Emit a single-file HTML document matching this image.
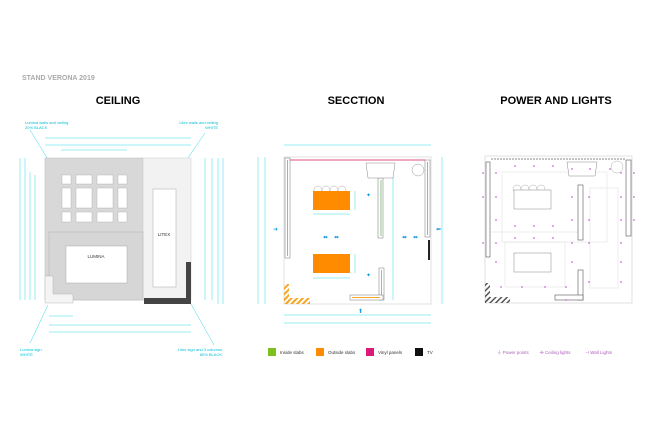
<!DOCTYPE html>
<html><head><meta charset="utf-8"><style>html,body{margin:0;padding:0;background:#fff}svg{display:block}</style></head>
<body>
<svg width="650" height="433" viewBox="0 0 650 433" xmlns="http://www.w3.org/2000/svg" font-family="Liberation Sans, sans-serif">
<defs>
<pattern id="h" width="4" height="4" patternUnits="userSpaceOnUse" patternTransform="rotate(45)"><rect width="2" height="4" fill="#f5a623"/></pattern>
<pattern id="hg" width="4" height="4" patternUnits="userSpaceOnUse" patternTransform="rotate(45)"><rect width="1.5" height="4" fill="#555"/></pattern>
</defs>
<text x="22" y="80" font-size="7" font-weight="bold" fill="#aaa">STAND VERONA 2019</text>
<text x="118" y="104" font-size="11" font-weight="bold" text-anchor="middle">CEILING</text>
<text x="356" y="104" font-size="11" font-weight="bold" text-anchor="middle">SECCTION</text>
<text x="556" y="104" font-size="11" font-weight="bold" text-anchor="middle">POWER AND LIGHTS</text>

<!-- CEILING -->
<g stroke="#00d0e0" stroke-width="0.4" fill="none">
<line x1="45" y1="138" x2="191" y2="138"/><line x1="45" y1="145" x2="191" y2="145"/><line x1="61" y1="150" x2="127" y2="150"/>
<line x1="49" y1="325" x2="191" y2="325"/><line x1="49" y1="332" x2="191" y2="332"/><line x1="49" y1="316" x2="73" y2="316"/>
<line x1="20" y1="158" x2="20" y2="300"/><line x1="25" y1="158" x2="25" y2="300"/><line x1="30" y1="172" x2="30" y2="300"/><line x1="35" y1="175" x2="35" y2="300"/>
<line x1="205" y1="158" x2="205" y2="300"/><line x1="212" y1="158" x2="212" y2="300"/><line x1="218" y1="158" x2="218" y2="304"/><line x1="223" y1="158" x2="223" y2="304"/>
<line x1="30" y1="130" x2="52" y2="166"/><line x1="205" y1="133" x2="181" y2="168"/>
<line x1="48" y1="305" x2="30" y2="343"/><line x1="191" y1="304" x2="214" y2="345"/>
</g>
<text x="25" y="124" font-size="4" fill="#00c0d8">Lumina walls and ceiling</text><text x="25" y="129" font-size="4" fill="#00c0d8">20% BLACK</text>
<text x="218" y="124" font-size="4" fill="#00c0d8" text-anchor="end">Litex walls and ceiling</text><text x="218" y="129" font-size="4" fill="#00c0d8" text-anchor="end">WHITE</text>
<text x="20" y="351" font-size="4" fill="#00c0d8">Lumina sign</text><text x="20" y="356" font-size="4" fill="#00c0d8">WHITE</text>
<text x="222" y="351" font-size="4" fill="#00c0d8" text-anchor="end">Litex sign and 3 columns</text><text x="222" y="356" font-size="4" fill="#00c0d8" text-anchor="end">80% BLACK</text>
<rect x="45" y="158" width="98" height="142" fill="#d8d8d8" stroke="#bbb" stroke-width="0.5"/>
<rect x="143" y="158" width="48" height="142" fill="#f2f2f2" stroke="#ccc" stroke-width="0.5"/>
<rect x="61" y="175" width="66" height="47" fill="#d8d8d8"/>
<g fill="#fff" stroke="#aaa" stroke-width="0.4">
<rect x="62" y="175" width="9" height="9"/><rect x="76" y="175" width="16" height="9"/><rect x="97" y="175" width="16" height="9"/><rect x="118" y="175" width="9" height="9"/>
<rect x="62" y="188" width="9" height="20"/><rect x="76" y="188" width="16" height="20"/><rect x="97" y="188" width="16" height="20"/><rect x="118" y="188" width="9" height="20"/>
<rect x="62" y="212" width="9" height="10"/><rect x="76" y="212" width="16" height="10"/><rect x="97" y="212" width="16" height="10"/><rect x="118" y="212" width="9" height="10"/>
</g>
<rect x="49" y="232" width="94" height="68" fill="#d6d6d6" stroke="#aaa" stroke-width="0.4"/>
<rect x="66" y="246" width="61" height="37" fill="#fff" stroke="#999" stroke-width="0.4"/>
<text x="96" y="258" font-size="4.5" text-anchor="middle" fill="#333">LUMINA</text>
<rect x="153" y="189" width="23" height="98" fill="#fff" stroke="#999" stroke-width="0.4"/>
<text x="164" y="236" font-size="4.5" text-anchor="middle" fill="#333">LITEX</text>
<rect x="186" y="262" width="5" height="42" fill="#444"/><rect x="144" y="298" width="47" height="6" fill="#444"/>
<path d="M45 276 H53 V294 H73 V303 H45 Z" fill="#f4f4f4" stroke="#aaa" stroke-width="0.4"/>

<!-- SECTION -->
<g stroke="#00d0e0" stroke-width="0.4" fill="none">
<line x1="284" y1="145" x2="431" y2="145"/><line x1="284" y1="315" x2="431" y2="315"/><line x1="284" y1="323" x2="431" y2="323"/>
<line x1="258" y1="157" x2="258" y2="304"/><line x1="265" y1="157" x2="265" y2="304"/><line x1="393" y1="170" x2="393" y2="300"/><line x1="442" y1="157" x2="442" y2="304"/>
<line x1="313" y1="214" x2="350" y2="214"/><line x1="313" y1="278" x2="350" y2="278"/><line x1="355" y1="191" x2="355" y2="210"/><line x1="355" y1="254" x2="355" y2="273"/>
</g>
<rect x="284" y="157" width="147" height="147" fill="none" stroke="#ccc" stroke-width="0.6"/>
<line x1="290" y1="160" x2="425" y2="160" stroke="#e05080" stroke-width="1"/>
<rect x="285" y="158" width="5" height="100" fill="#fff" stroke="#777" stroke-width="0.5"/><line x1="287.5" y1="160" x2="287.5" y2="256" stroke="#f5a623"/>
<rect x="378" y="178" width="5" height="60" fill="#fff" stroke="#777" stroke-width="0.5"/><line x1="381" y1="180" x2="381" y2="236" stroke="#7fc97f"/>
<rect x="425" y="160" width="5" height="77" fill="#fff" stroke="#777" stroke-width="0.5"/><line x1="427.5" y1="162" x2="427.5" y2="235" stroke="#7fc97f"/>
<rect x="428" y="240" width="2" height="20" fill="#222"/>
<rect x="379" y="268" width="5" height="32" fill="#fff" stroke="#777" stroke-width="0.5"/><line x1="381.5" y1="270" x2="381.5" y2="298" stroke="#f5a623"/>
<rect x="350" y="295" width="33" height="5" fill="#fff" stroke="#777" stroke-width="0.5"/><line x1="352" y1="297.5" x2="380" y2="297.5" stroke="#f5a623"/>
<rect x="284" y="284" width="5" height="20" fill="url(#h)"/><rect x="284" y="298" width="26" height="6" fill="url(#h)"/>
<path d="M366 163 H395 L393 178 H368 Z" fill="#fff" stroke="#888" stroke-width="0.5"/><circle cx="418" cy="170" r="6" fill="#fff" stroke="#999" stroke-width="0.5"/>
<g fill="#fff" stroke="#999" stroke-width="0.4"><circle cx="318" cy="190" r="4"/><circle cx="326" cy="190" r="4"/><circle cx="334" cy="190" r="4"/><circle cx="342" cy="190" r="4"/></g>
<rect x="313" y="191" width="37" height="19" fill="#ff8c00"/>
<rect x="313" y="254" width="37" height="19" fill="#ff8c00"/>
<g fill="#1a9de0" font-size="6"><text x="273" y="231">➜</text><text x="323" y="239">⬌</text><text x="334" y="239">⬌</text><text x="402" y="239">⬌</text><text x="413" y="239">⬌</text><text x="436" y="231">⬅</text><text x="366" y="197">✦</text><text x="366" y="277">✦</text><text x="358" y="313">⬆</text></g>
<rect x="268" y="348" width="8" height="8" fill="#7ec11e"/><text x="280" y="354" font-size="4.5" fill="#333">Inside slabs</text>
<rect x="316" y="348" width="8" height="8" fill="#ff8c00"/><text x="328" y="354" font-size="4.5" fill="#333">Outside slabs</text>
<rect x="366" y="348" width="8" height="8" fill="#d81b7a"/><text x="378" y="354" font-size="4.5" fill="#333">Vinyl panels</text>
<rect x="415" y="348" width="8" height="8" fill="#111"/><text x="427" y="354" font-size="4.5" fill="#333">TV</text>

<!-- POWER -->
<rect x="485" y="156" width="147" height="147" fill="none" stroke="#ccc" stroke-width="0.6"/>
<line x1="491" y1="159" x2="626" y2="159" stroke="#666" stroke-width="0.8" stroke-dasharray="2 1"/>
<g fill="none" stroke="#ddd" stroke-width="0.5"><rect x="502" y="172" width="105" height="70"/><rect x="505" y="242" width="60" height="45"/><rect x="590" y="188" width="28" height="100"/><line x1="485" y1="232" x2="580" y2="232"/></g>
<rect x="486" y="162" width="4" height="95" fill="#fff" stroke="#555" stroke-width="0.6"/>
<rect x="578" y="185" width="5" height="55" fill="#fff" stroke="#555" stroke-width="0.6"/>
<rect x="626" y="160" width="5" height="76" fill="#fff" stroke="#555" stroke-width="0.6"/>
<rect x="578" y="270" width="5" height="30" fill="#fff" stroke="#555" stroke-width="0.6"/><rect x="555" y="295" width="28" height="5" fill="#fff" stroke="#555" stroke-width="0.6"/>
<rect x="485" y="283" width="5" height="20" fill="url(#hg)"/><rect x="485" y="297" width="25" height="6" fill="url(#hg)"/>
<g fill="#fff" stroke="#999" stroke-width="0.4"><circle cx="517" cy="189" r="4"/><circle cx="525" cy="189" r="4"/><circle cx="533" cy="189" r="4"/><circle cx="541" cy="189" r="4"/><circle cx="617" cy="167" r="6"/></g>
<rect x="514" y="190" width="37" height="19" fill="#fff" stroke="#888" stroke-width="0.5"/>
<rect x="514" y="253" width="37" height="19" fill="#fff" stroke="#888" stroke-width="0.5"/>
<path d="M567 162 H597 L595 176 H569 Z" fill="#fff" stroke="#888" stroke-width="0.5"/>
<g fill="#c070d0">
<circle cx="515" cy="166" r="0.9"/><circle cx="534" cy="166" r="0.9"/><circle cx="553" cy="166" r="0.9"/><circle cx="572" cy="169" r="0.9"/><circle cx="590" cy="169" r="0.9"/><circle cx="610" cy="169" r="0.9"/>
<circle cx="483" cy="173" r="0.9"/><circle cx="496" cy="173" r="0.9"/><circle cx="621" cy="173" r="0.9"/><circle cx="634" cy="173" r="0.9"/>
<circle cx="483" cy="197" r="0.9"/><circle cx="496" cy="197" r="0.9"/><circle cx="572" cy="197" r="0.9"/><circle cx="589" cy="197" r="0.9"/><circle cx="621" cy="197" r="0.9"/><circle cx="634" cy="197" r="0.9"/>
<circle cx="496" cy="220" r="0.9"/><circle cx="572" cy="220" r="0.9"/><circle cx="589" cy="220" r="0.9"/><circle cx="621" cy="220" r="0.9"/><circle cx="634" cy="220" r="0.9"/>
<circle cx="515" cy="226" r="0.9"/><circle cx="534" cy="226" r="0.9"/><circle cx="553" cy="226" r="0.9"/>
<circle cx="515" cy="238" r="0.9"/><circle cx="534" cy="238" r="0.9"/><circle cx="553" cy="238" r="0.9"/>
<circle cx="483" cy="243" r="0.9"/><circle cx="496" cy="243" r="0.9"/><circle cx="572" cy="243" r="0.9"/><circle cx="589" cy="243" r="0.9"/><circle cx="621" cy="243" r="0.9"/>
<circle cx="496" cy="262" r="0.9"/><circle cx="572" cy="262" r="0.9"/><circle cx="621" cy="262" r="0.9"/>
<circle cx="589" cy="282" r="0.9"/><circle cx="621" cy="282" r="0.9"/>
<circle cx="501" cy="287" r="0.9"/><circle cx="522" cy="287" r="0.9"/><circle cx="545" cy="287" r="0.9"/><circle cx="566" cy="287" r="0.9"/><circle cx="566" cy="300" r="0.9"/>
</g>
<g fill="#b060c0" font-size="4.5"><text x="497" y="354">⏚ Power points</text><text x="540" y="354">✣ Ceiling lights</text><text x="585" y="354">⊣ Wall Lights</text></g>
</svg>
</body></html>
